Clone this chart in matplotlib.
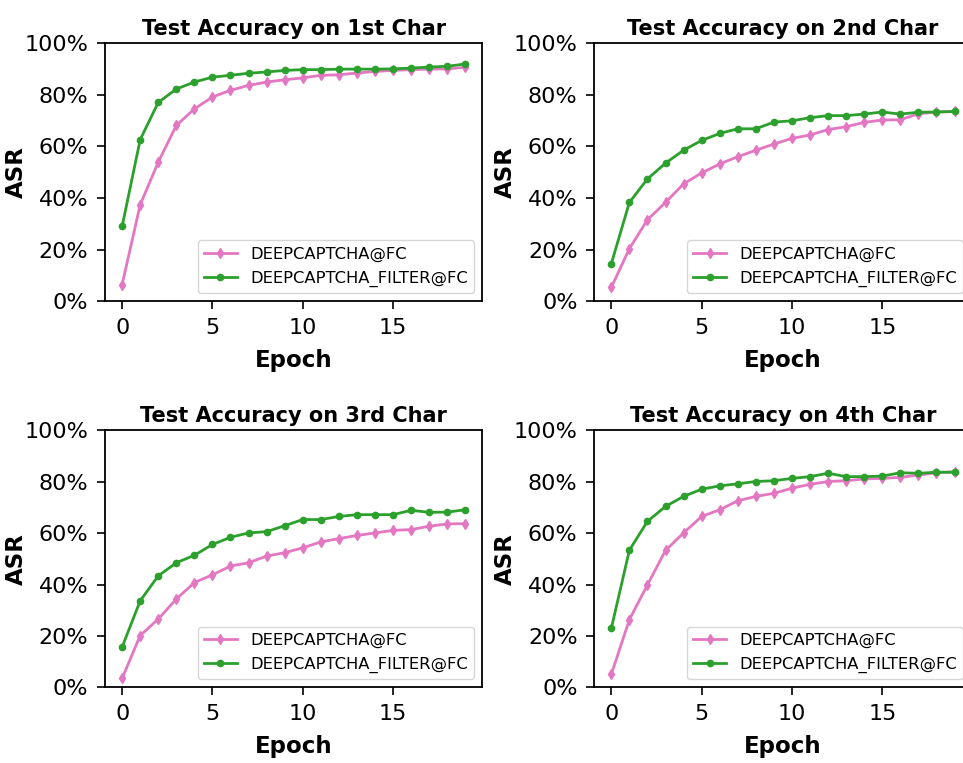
import matplotlib
matplotlib.use("Agg")
import matplotlib.pyplot as plt
from matplotlib.ticker import PercentFormatter

epochs = list(range(20))

titles = ["Test Accuracy on 1st Char", "Test Accuracy on 2nd Char",
          "Test Accuracy on 3rd Char", "Test Accuracy on 4th Char"]

# DEEPCAPTCHA@FC
base_1 = [0.065, 0.374, 0.539, 0.681, 0.745, 0.791, 0.817, 0.836, 0.849, 0.858,
          0.865, 0.875, 0.877, 0.884, 0.890, 0.894, 0.897, 0.899, 0.900, 0.906]
base_2 = [0.054, 0.204, 0.316, 0.383, 0.455, 0.497, 0.532, 0.560, 0.585, 0.609,
          0.631, 0.644, 0.665, 0.676, 0.693, 0.702, 0.703, 0.726, 0.733, 0.735]
base_3 = [0.035, 0.202, 0.266, 0.344, 0.408, 0.438, 0.472, 0.485, 0.511, 0.524,
          0.543, 0.566, 0.579, 0.591, 0.601, 0.611, 0.614, 0.627, 0.636, 0.637]
base_4 = [0.051, 0.264, 0.399, 0.533, 0.601, 0.665, 0.691, 0.726, 0.743, 0.755,
          0.775, 0.790, 0.801, 0.804, 0.811, 0.813, 0.817, 0.826, 0.835, 0.839]

# DEEPCAPTCHA_FILTER@FC
filt_1 = [0.290, 0.626, 0.770, 0.822, 0.849, 0.868, 0.875, 0.883, 0.888, 0.894,
          0.897, 0.897, 0.899, 0.899, 0.899, 0.900, 0.903, 0.907, 0.910, 0.919]
filt_2 = [0.146, 0.383, 0.474, 0.535, 0.585, 0.623, 0.650, 0.668, 0.668, 0.694,
          0.699, 0.711, 0.719, 0.719, 0.725, 0.733, 0.725, 0.732, 0.733, 0.735]
filt_3 = [0.157, 0.337, 0.434, 0.485, 0.514, 0.556, 0.584, 0.601, 0.606, 0.629,
          0.653, 0.653, 0.665, 0.672, 0.672, 0.672, 0.689, 0.681, 0.682, 0.691]
filt_4 = [0.230, 0.534, 0.646, 0.704, 0.743, 0.771, 0.784, 0.792, 0.801, 0.804,
          0.813, 0.820, 0.833, 0.820, 0.820, 0.822, 0.835, 0.833, 0.837, 0.837]

base_all = [base_1, base_2, base_3, base_4]
filt_all = [filt_1, filt_2, filt_3, filt_4]

fig = plt.figure(figsize=(9.63, 7.63), dpi=100)

# axes boxes in figure fractions (left, bottom, width, height)
# the right column runs a bit past the figure edge, as in the source image
w = 0.392
boxes = [(0.109, 0.605, w, 0.3386), (0.617, 0.605, w, 0.3386),
         (0.109, 0.099, w, 0.337), (0.617, 0.099, w, 0.337)]

for k in range(4):
    ax = fig.add_axes(boxes[k])
    ax.plot(epochs, base_all[k], color="tab:pink", marker="d", markersize=5,
            linewidth=2, label="DEEPCAPTCHA@FC")
    ax.plot(epochs, filt_all[k], color="tab:green", marker="o", markersize=4.5,
            linewidth=2, label="DEEPCAPTCHA_FILTER@FC")
    ax.set_ylim(0, 1.0)
    ax.set_yticks([0, 0.2, 0.4, 0.6, 0.8, 1.0])
    ax.yaxis.set_major_formatter(PercentFormatter(1.0, decimals=0))
    ax.set_xticks([0, 5, 10, 15])
    ax.tick_params(labelsize=16, length=5.5, width=1.2, pad=6.5)
    ax.set_title(titles[k], fontsize=15, fontweight="bold")
    ax.set_xlabel("Epoch", fontsize=16.5, fontweight="bold", labelpad=8)
    ax.set_ylabel("ASR", fontsize=16.5, fontweight="bold")
    ax.yaxis.set_label_coords(-0.205, 0.5)
    ax.legend(loc="lower right", fontsize=11.8)
    for s in ax.spines.values():
        s.set_linewidth(1.3)

fig.savefig("out.png", dpi=100)
